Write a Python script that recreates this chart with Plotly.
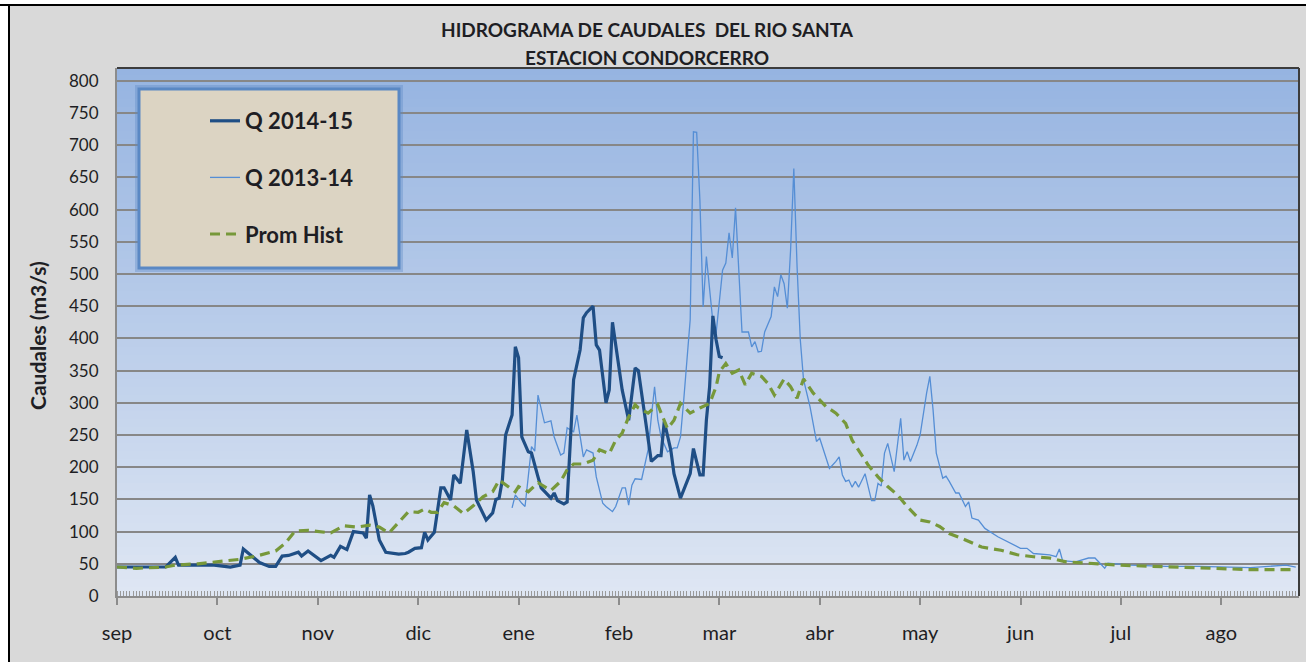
import plotly.graph_objects as go

# ---------------- data ----------------
month_labels = ["sep", "oct", "nov", "dic", "ene", "feb", "mar", "abr", "may", "jun", "jul", "ago"]
month_tick_days = [0, 31, 62, 93, 124, 155, 186, 217, 248, 279, 310, 341]

q1415_day = [0, 15, 18, 19, 30, 35, 38, 39, 44, 47, 49, 51, 53, 56, 57, 59, 63, 65, 66, 67,
             69, 71, 73, 76, 77, 78, 79, 81, 83, 87, 89, 90, 92, 94, 95, 96, 98, 100, 101, 103,
             104, 106, 108, 110, 111, 114, 116, 117, 118, 119, 120, 122, 123, 124, 125, 127, 128, 130, 131, 134,
             135, 136, 138, 139, 141, 143, 144, 145, 147, 148, 149, 151, 152, 153, 154, 156, 158, 160, 161, 164,
             165, 167, 168, 169, 171, 172, 174, 177, 178, 180, 181, 182, 183, 184, 185, 186, 187]
q1415_val = [45, 45, 60, 48, 48, 45, 48, 73, 52, 46, 46, 62, 63, 68, 62, 70, 55, 61, 63, 60,
             77, 72, 100, 98, 90, 157, 140, 87, 68, 65, 66, 68, 74, 75, 99, 87, 99, 168, 168, 149,
             188, 175, 258, 193, 149, 118, 129, 150, 152, 180, 250, 281, 387, 370, 247, 224, 222, 185, 168, 152,
             160, 148, 143, 146, 336, 382, 432, 440, 450, 390, 382, 300, 320, 425, 387, 320, 273, 354, 350, 247,
             209, 218, 218, 271, 227, 190, 152, 190, 229, 188, 188, 273, 325, 435, 398, 372, 370]

q1314_day = [122, 123, 125, 126, 128, 129, 130, 132, 134, 135, 137, 138, 139, 141, 142, 144, 145, 147, 148, 150,
             151, 153, 154, 156, 157, 158, 159, 160, 162, 164, 165, 166, 167, 168, 170, 172, 173, 174, 175, 176,
             177, 178, 179, 180, 181, 182, 183, 184, 185, 187, 188, 189, 190, 191, 193, 195, 196, 197, 198, 199,
             200, 201, 202, 203, 204, 205, 206, 207, 208, 209, 210, 211, 212, 214, 216, 217, 219, 220, 222, 223,
             224, 225, 226, 227, 228, 229, 231, 233, 234, 235, 236, 237, 238, 240, 242, 243, 244, 245, 247, 248,
             250, 251, 252, 253, 255, 256, 257, 259, 260, 262, 263, 264, 266, 268, 272, 276, 279, 281, 283, 288,
             290, 291, 292, 296, 300, 302, 305, 306, 313, 324, 334, 350, 361, 364]
q1314_val = [137, 157, 144, 139, 232, 225, 312, 269, 272, 247, 219, 222, 261, 255, 281, 216, 227, 222, 185, 144,
             139, 131, 139, 168, 168, 141, 172, 182, 181, 227, 278, 325, 273, 247, 224, 230, 230, 247, 304, 372,
             429, 721, 720, 615, 449, 527, 480, 426, 408, 506, 517, 564, 525, 603, 410, 410, 387, 395, 379, 380,
             410, 421, 434, 480, 465, 499, 485, 447, 537, 664, 512, 398, 336, 294, 240, 245, 214, 198, 209, 216,
             188, 178, 180, 169, 178, 169, 190, 148, 148, 175, 171, 222, 237, 193, 276, 211, 224, 209, 234, 250,
             315, 341, 289, 222, 183, 186, 178, 160, 160, 139, 146, 121, 118, 105, 92, 82, 74, 74, 66, 64,
             61, 73, 55, 53, 59, 59, 43, 51, 48, 46, 46, 44, 48, 45]

prom_day = [0, 6, 15, 18, 25, 35, 38, 43, 49, 52, 55, 59, 63, 66, 70, 74, 78, 81, 84, 87,
            90, 93, 95, 97, 99, 101, 104, 107, 110, 113, 116, 118, 121, 123, 124, 127, 130, 132, 134, 137,
            139, 141, 144, 147, 149, 152, 154, 156, 158, 160, 161, 164, 167, 170, 172, 174, 177, 180, 183, 185,
            186, 188, 190, 192, 194, 196, 199, 201, 203, 206, 208, 210, 212, 215, 219, 222, 225, 227, 229, 232,
            235, 238, 241, 244, 248, 251, 254, 257, 262, 267, 273, 278, 283, 288, 293, 298, 303, 309, 319, 329,
            340, 350, 364]
prom_val = [45, 43, 45, 48, 50, 55, 57, 62, 70, 82, 101, 102, 100, 98, 109, 107, 110, 107, 98, 115,
            131, 130, 135, 130, 130, 145, 140, 128, 140, 154, 162, 180, 170, 162, 170, 162, 176, 170, 164, 178,
            196, 205, 205, 211, 227, 221, 242, 253, 278, 297, 292, 284, 297, 260, 273, 299, 284, 292, 299, 325,
            348, 361, 346, 351, 328, 346, 341, 330, 312, 337, 325, 307, 337, 315, 294, 284, 268, 242, 227, 203,
            185, 170, 157, 139, 118, 115, 108, 97, 87, 76, 71, 64, 61, 59, 53, 52, 50, 48, 46, 44,
            43, 41, 41]

# ---------------- geometry helpers (pixel -> paper) ----------------
W, H = 1306, 662
PL, PR, PT, PB = 117, 1299, 68, 596


def px(x):
    return (x - PL) / (PR - PL)


def py(y):
    return (PB - y) / (PB - PT)


FONT = "Lato"
TXT = "#1e1e24"

fig = go.Figure()

fig.add_trace(go.Scatter(x=q1314_day, y=q1314_val, mode="lines", name="Q 2013-14",
                         line=dict(color="#558ED5", width=1.3), legendgroup="b", legendrank=2))
fig.add_trace(go.Scatter(x=q1415_day, y=q1415_val, mode="lines", name="Q 2014-15",
                         line=dict(color="#1F4E85", width=3.2), legendgroup="a", legendrank=1))
fig.add_trace(go.Scatter(x=prom_day, y=prom_val, mode="lines", name="Prom Hist",
                         line=dict(color="#77983A", width=3.2, dash="10px,6px"), legendgroup="c", legendrank=3))

shapes = []
# outer white margin + black frame
shapes.append(dict(type="rect", xref="paper", yref="paper", x0=px(0), x1=px(W), y0=py(0), y1=py(4),
                   fillcolor="white", line=dict(width=0), layer="below"))
shapes.append(dict(type="rect", xref="paper", yref="paper", x0=px(0), x1=px(8), y0=py(0), y1=py(H),
                   fillcolor="white", line=dict(width=0), layer="below"))
shapes.append(dict(type="line", xref="paper", yref="paper", x0=px(0), x1=px(W), y0=py(5), y1=py(5),
                   line=dict(color="black", width=2), layer="below"))
shapes.append(dict(type="line", xref="paper", yref="paper", x0=px(9), x1=px(9), y0=py(5), y1=py(H),
                   line=dict(color="black", width=2), layer="below"))

# plot area vertical gradient
top_c = (150, 180, 225)
bot_c = (222, 230, 243)
N = 66
for i in range(N):
    t = i / (N - 1)
    c = tuple(int(round(top_c[k] + (bot_c[k] - top_c[k]) * t)) for k in range(3))
    shapes.append(dict(type="rect", xref="paper", yref="paper", x0=0, x1=1,
                       y0=1 - (i + 1) / N, y1=1 - i / N + 0.002,
                       fillcolor="rgb(%d,%d,%d)" % c, line=dict(width=0), layer="below"))

# plot area dark top/right border
shapes.append(dict(type="line", xref="paper", yref="paper", x0=0, x1=1, y0=1, y1=1,
                   line=dict(color="#3c3c3c", width=2), layer="above"))
shapes.append(dict(type="line", xref="paper", yref="paper", x0=1, x1=1, y0=0, y1=1,
                   line=dict(color="#3c3c3c", width=2), layer="above"))

# legend box (glow + textured-looking fill)
shapes.append(dict(type="rect", xref="paper", yref="paper", x0=px(135), x1=px(403), y0=py(272), y1=py(85),
                   fillcolor="rgba(90,135,195,0.35)", line=dict(width=0), layer="above"))
shapes.append(dict(type="rect", xref="paper", yref="paper", x0=px(139), x1=px(399), y0=py(268), y1=py(89),
                   fillcolor="#DCD4C3", line=dict(color="#5A88C4", width=3), layer="above"))

annotations = [
    dict(text="<b>HIDROGRAMA DE CAUDALES  DEL RIO SANTA</b>", xref="paper", yref="paper",
         x=px(647), y=py(30), xanchor="center", yanchor="middle", showarrow=False,
         font=dict(family=FONT, size=19, color=TXT)),
    dict(text="<b>ESTACION CONDORCERRO</b>", xref="paper", yref="paper",
         x=px(647), y=py(57), xanchor="center", yanchor="middle", showarrow=False,
         font=dict(family=FONT, size=19, color=TXT)),
    dict(text="<b>Caudales (m3/s)</b>", xref="paper", yref="paper", textangle=-90,
         x=px(37), y=py(336), xanchor="center", yanchor="middle", showarrow=False,
         font=dict(family=FONT, size=21, color=TXT)),
]

fig.update_layout(
    width=W, height=H,
    margin=dict(l=PL, r=W - PR, t=PT, b=H - PB, pad=0),
    paper_bgcolor="#D9D9D9",
    plot_bgcolor="rgba(0,0,0,0)",
    shapes=shapes,
    annotations=annotations,
    showlegend=True,
    legend=dict(x=px(205), y=py(100), xanchor="left", yanchor="top",
                bgcolor="rgba(0,0,0,0)", borderwidth=0, tracegroupgap=25,
                font=dict(family=FONT, size=22, color=TXT, weight="bold")),
    xaxis=dict(range=[0, 365], tickmode="array", tickvals=month_tick_days, ticktext=month_labels,
               showgrid=False, zeroline=False, showline=True, linecolor="#8c8c8c", linewidth=2,
               ticks="outside", ticklen=7, tickwidth=2, tickcolor="#8c8c8c", ticklabelstandoff=11,
               tickfont=dict(family=FONT, size=20, color=TXT),
               minor=dict(tickmode="linear", tick0=0, dtick=1, ticks="inside", ticklen=5,
                          tickwidth=1, tickcolor="#9a9a9a", showgrid=False)),
    yaxis=dict(range=[0, 820], tickmode="linear", tick0=0, dtick=50,
               showgrid=True, gridcolor="#878787", gridwidth=1.6, zeroline=False,
               showline=True, linecolor="#8c8c8c", linewidth=2, ticks="",
               ticklabelstandoff=13, tickfont=dict(family=FONT, size=17, color=TXT)),
)

fig.write_html("out.html", config={"displayModeBar": False},
               post_script="document.body.style.margin='0';document.body.style.padding='0';")
